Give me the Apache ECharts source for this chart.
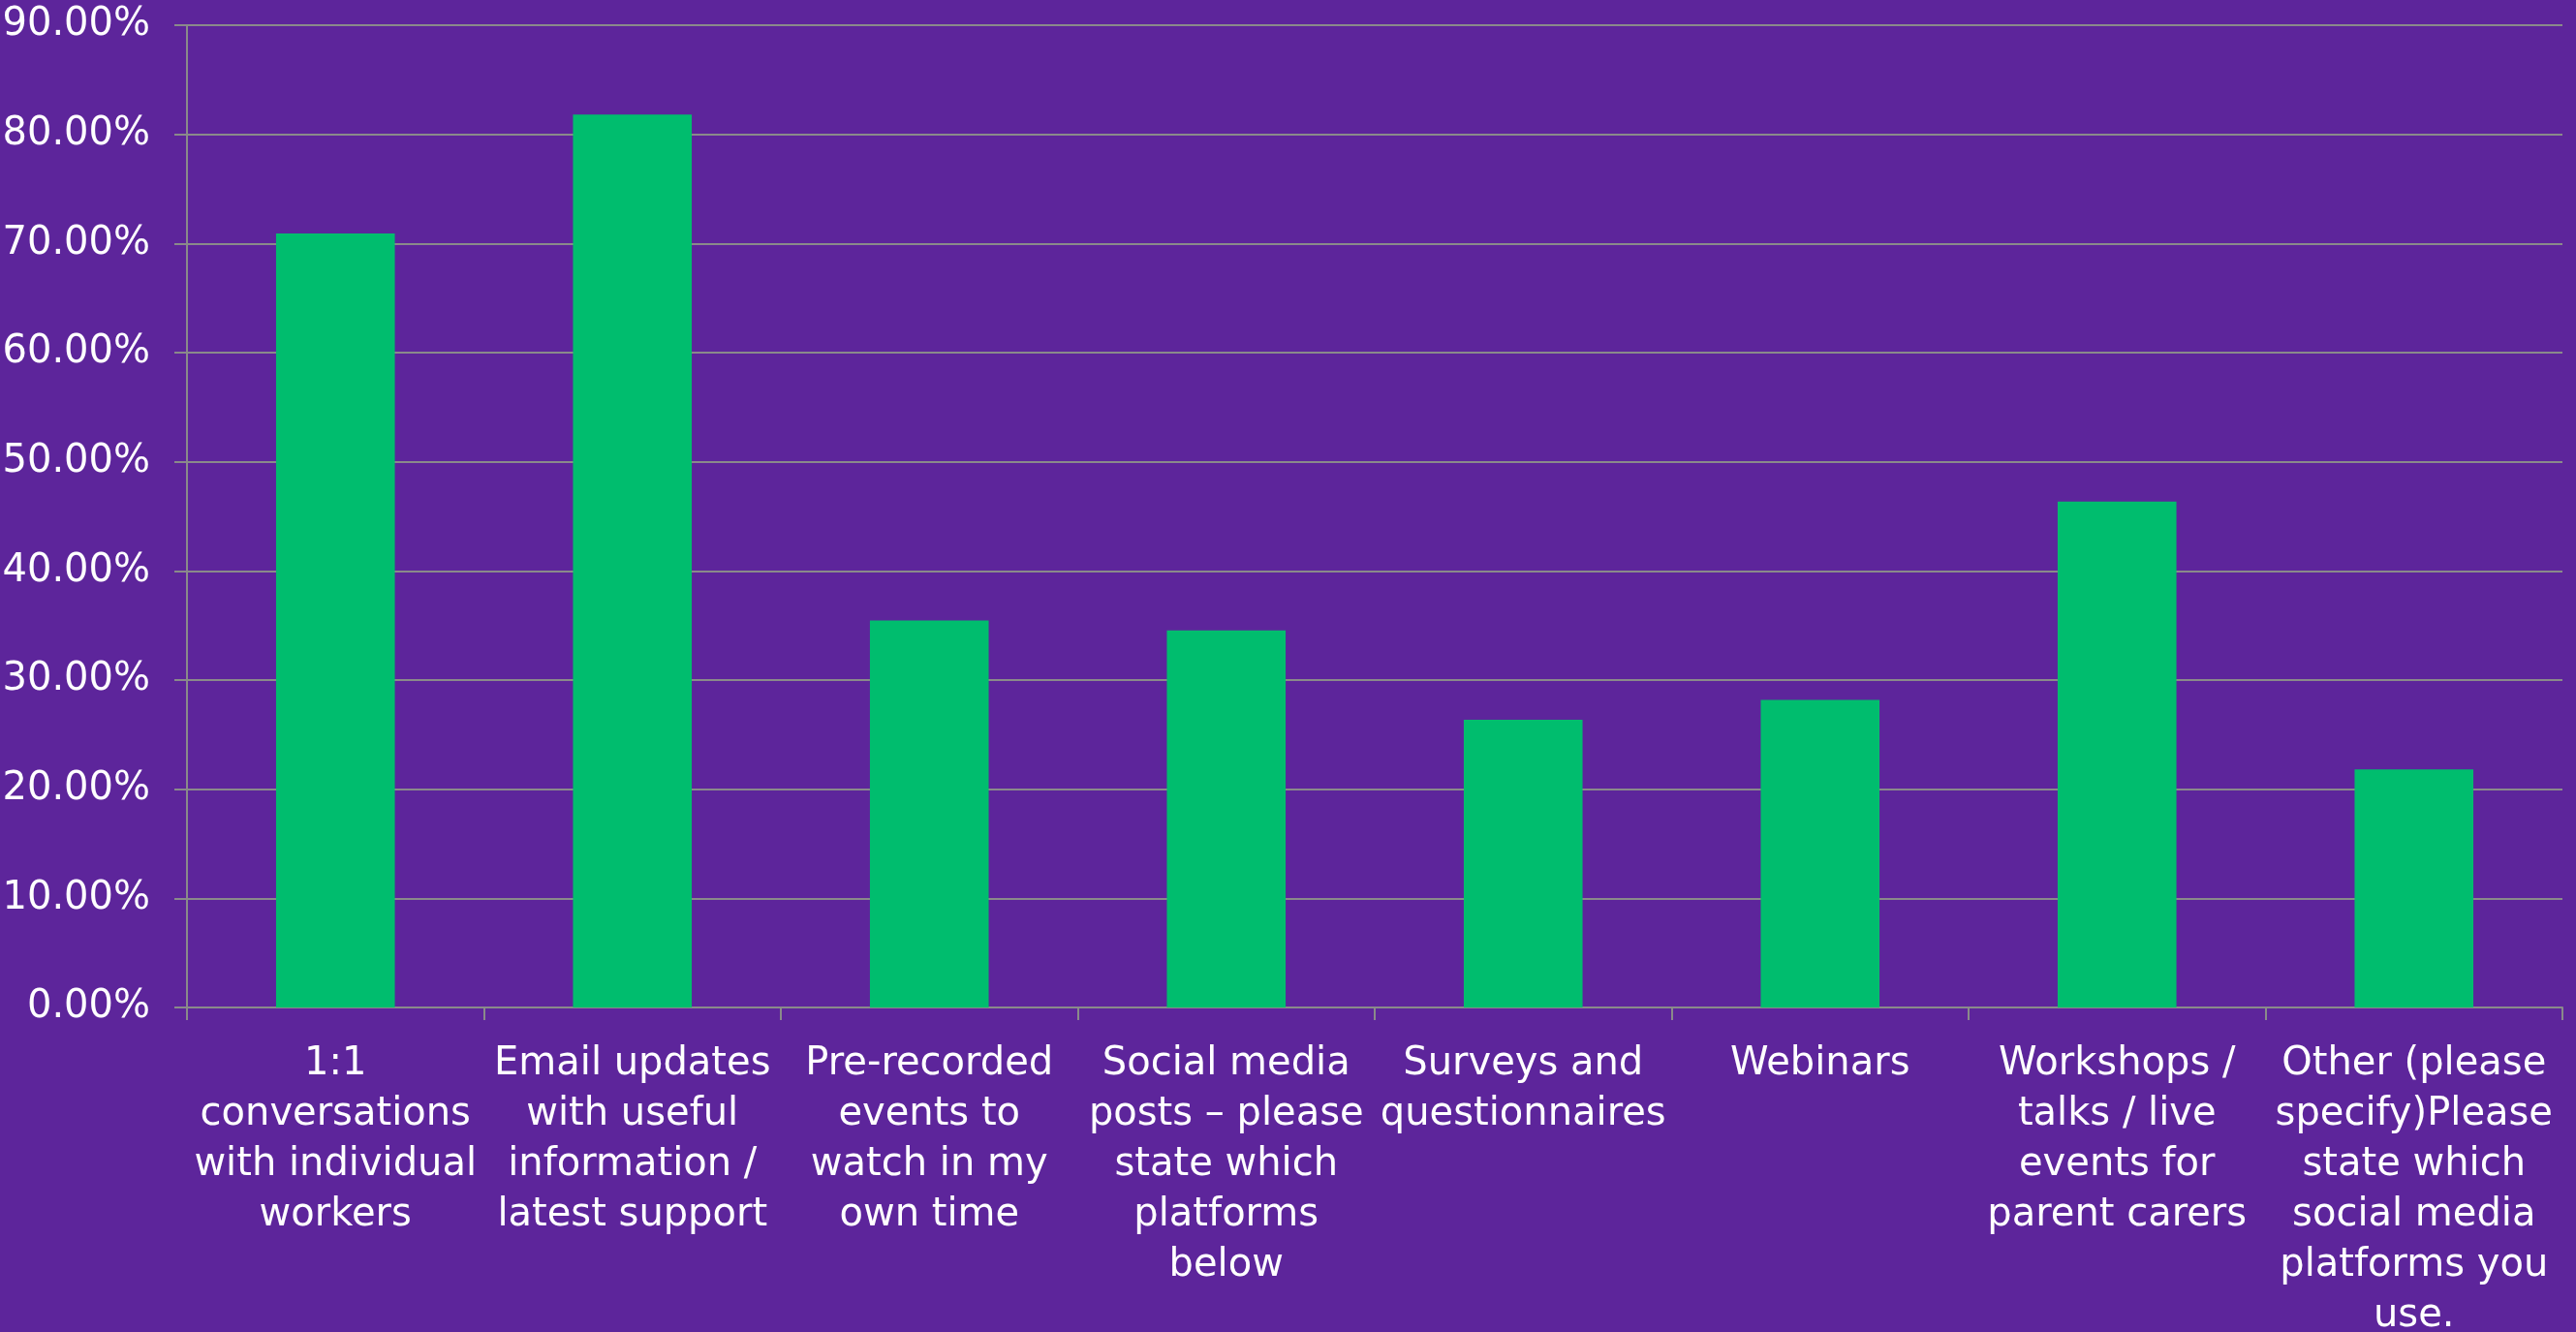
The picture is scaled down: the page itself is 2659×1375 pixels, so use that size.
<!DOCTYPE html>
<html>
<head>
<meta charset="utf-8">
<script src="https://cdn.jsdelivr.net/npm/echarts@6/dist/echarts.min.js"></script>
<style>
  html, body { margin: 0; padding: 0; background: #5d259b; }
  #chart { width: 2659px; height: 1375px; }
</style>
</head>
<body>
<div id="chart"></div>
<script>
// Preferred ways of receiving information (share of respondents, %)
const categories = [
  '1:1\nconversations\nwith individual\nworkers',
  'Email updates\nwith useful\ninformation /\nlatest support',
  'Pre-recorded\nevents to\nwatch in my\nown time',
  'Social media\nposts – please\nstate which\nplatforms\nbelow',
  'Surveys and\nquestionnaires',
  'Webinars',
  'Workshops /\ntalks / live\nevents for\nparent carers',
  'Other (please\nspecify)Please\nstate which\nsocial media\nplatforms you\nuse.'
];
const shares = [70.91, 81.82, 35.45, 34.55, 26.36, 28.18, 46.36, 21.82];
const yMin = 0;
const yMax = 90;
const yStep = 10;

const lineGrey = '#8a8a8a';
const textFont = 'DejaVu Sans';

const chart = echarts.init(document.getElementById('chart'), null, { renderer: 'canvas' });
chart.setOption({
  backgroundColor: '#5d259b',
  animation: false,
  grid: {
    left: 193, right: 14, top: 26, bottom: 335,
    containLabel: false,
    outerBoundsMode: 'none'
  },
  xAxis: {
    type: 'category',
    data: categories,
    boundaryGap: true,
    axisLine: { show: true, lineStyle: { color: lineGrey, width: 2 } },
    axisTick: { show: true, alignWithLabel: false, length: 13, lineStyle: { color: lineGrey, width: 2 } },
    axisLabel: {
      interval: 0,
      margin: 33,
      color: '#ffffff',
      fontFamily: textFont,
      fontSize: 40,
      lineHeight: 52,
      align: 'center'
    },
    splitLine: { show: false }
  },
  yAxis: {
    type: 'value',
    min: yMin,
    max: yMax,
    interval: yStep,
    axisLine: { show: true, lineStyle: { color: lineGrey, width: 2 } },
    axisTick: { show: true, length: 13, lineStyle: { color: lineGrey, width: 2 } },
    axisLabel: {
      margin: 38,
      color: '#ffffff',
      fontFamily: textFont,
      fontSize: 40,
      formatter: v => v.toFixed(2) + '%'
    },
    splitLine: { show: true, lineStyle: { color: lineGrey, width: 2 } }
  },
  series: [{
    type: 'bar',
    data: shares,
    barWidth: '40%',
    itemStyle: { color: '#00bd6e' }
  }]
});
</script>
</body>
</html>
